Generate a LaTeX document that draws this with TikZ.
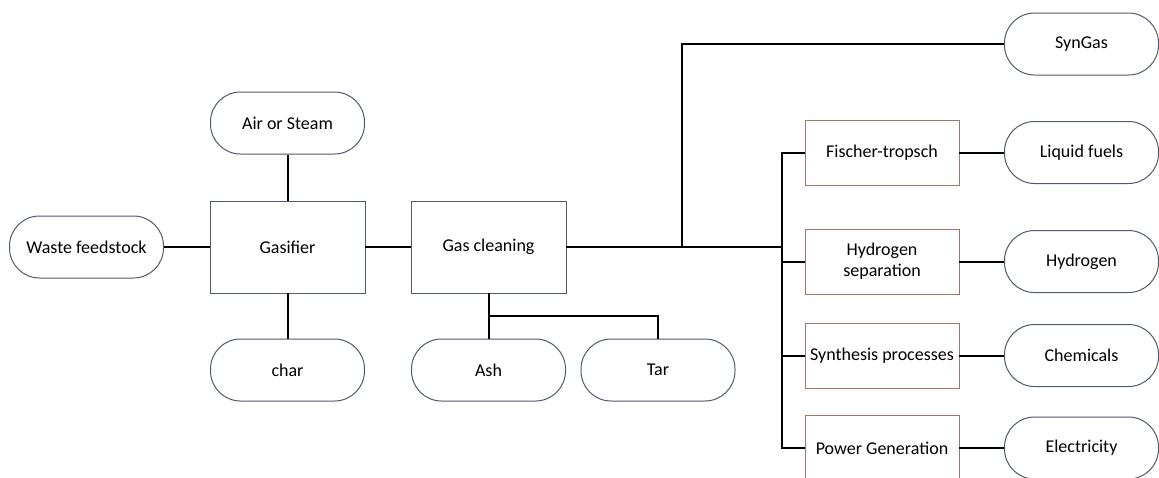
\documentclass[tikz,border=0pt]{standalone}
\usepackage{fontspec}
\setmainfont{Carlito}
\definecolor{edgeblue}{RGB}{80,92,105}
\definecolor{edgered}{RGB}{170,115,105}
\begin{document}
\begin{tikzpicture}[x=1pt,y=-1pt,
  every node/.style={font=\fontsize{18}{20}\selectfont, text=black, align=center, inner sep=0pt},
  pill/.style={draw=edgeblue, line width=1pt, rounded corners=30pt, minimum width=154pt, minimum height=62pt},
  boxb/.style={draw=edgeblue, line width=0.9pt, minimum width=155pt, minimum height=92pt},
  boxr/.style={draw=edgered, line width=0.9pt, minimum width=154pt, minimum height=65pt},
  link/.style={line width=2pt, black}]
\useasboundingbox (0,0) rectangle (1159,477);
\clip (0,0) rectangle (1159,477);
\fill[white] (0,0) rectangle (1159,477);

\node[pill] (waste) at (86.5,247) {Waste feedstock};
\node[pill] (air) at (287.5,123) {Air or Steam};
\node[boxb] (gasifier) at (287.5,247) {Gasifier};
\node[pill] (char) at (287.5,370) {char};
\node[boxb] (clean) at (488.5,247) {Gas cleaning};
\node[pill] (ash) at (488.5,370) {Ash};
\node[pill] (tar) at (658,370) {Tar};
\node[pill] (syngas) at (1081.5,44) {SynGas};

\node[boxr] (ft) at (882,152.5) {Fischer-tropsch};
\node[boxr] (hs) at (882,261.5) {Hydrogen\\[1pt]separation};
\node[boxr] (sp) at (882,355.5) {Synthesis processes};
\node[boxr] (pg) at (882,448) {Power Generation};

\node[pill] (liquid) at (1081.5,152.5) {Liquid fuels};
\node[pill] (hydrogen) at (1081.5,261.5) {Hydrogen};
\node[pill] (chem) at (1081.5,355.5) {Chemicals};
\node[pill] (elec) at (1081.5,448) {Electricity};

\coordinate (j1) at (682,247);
\coordinate (bus) at (782,247);
\coordinate (ashtar) at (488.5,316);

\draw[link] (waste) -- (gasifier);
\draw[link] (air) -- (gasifier);
\draw[link] (gasifier) -- (char);
\draw[link] (gasifier) -- (clean);
\draw[link] (clean.east) -- (bus);
\draw[link] (j1) |- (syngas.west);
\draw[link] (clean) -- (ash);
\draw[link] (ashtar) -| (tar.north);
\draw[link] (ft.west) -| (bus) |- (pg.west);
\draw[link] (bus |- hs.west) -- (hs.west);
\draw[link] (bus |- sp.west) -- (sp.west);
\draw[link] (ft) -- (liquid);
\draw[link] (hs) -- (hydrogen);
\draw[link] (sp) -- (chem);
\draw[link] (pg) -- (elec);
\end{tikzpicture}
\end{document}
